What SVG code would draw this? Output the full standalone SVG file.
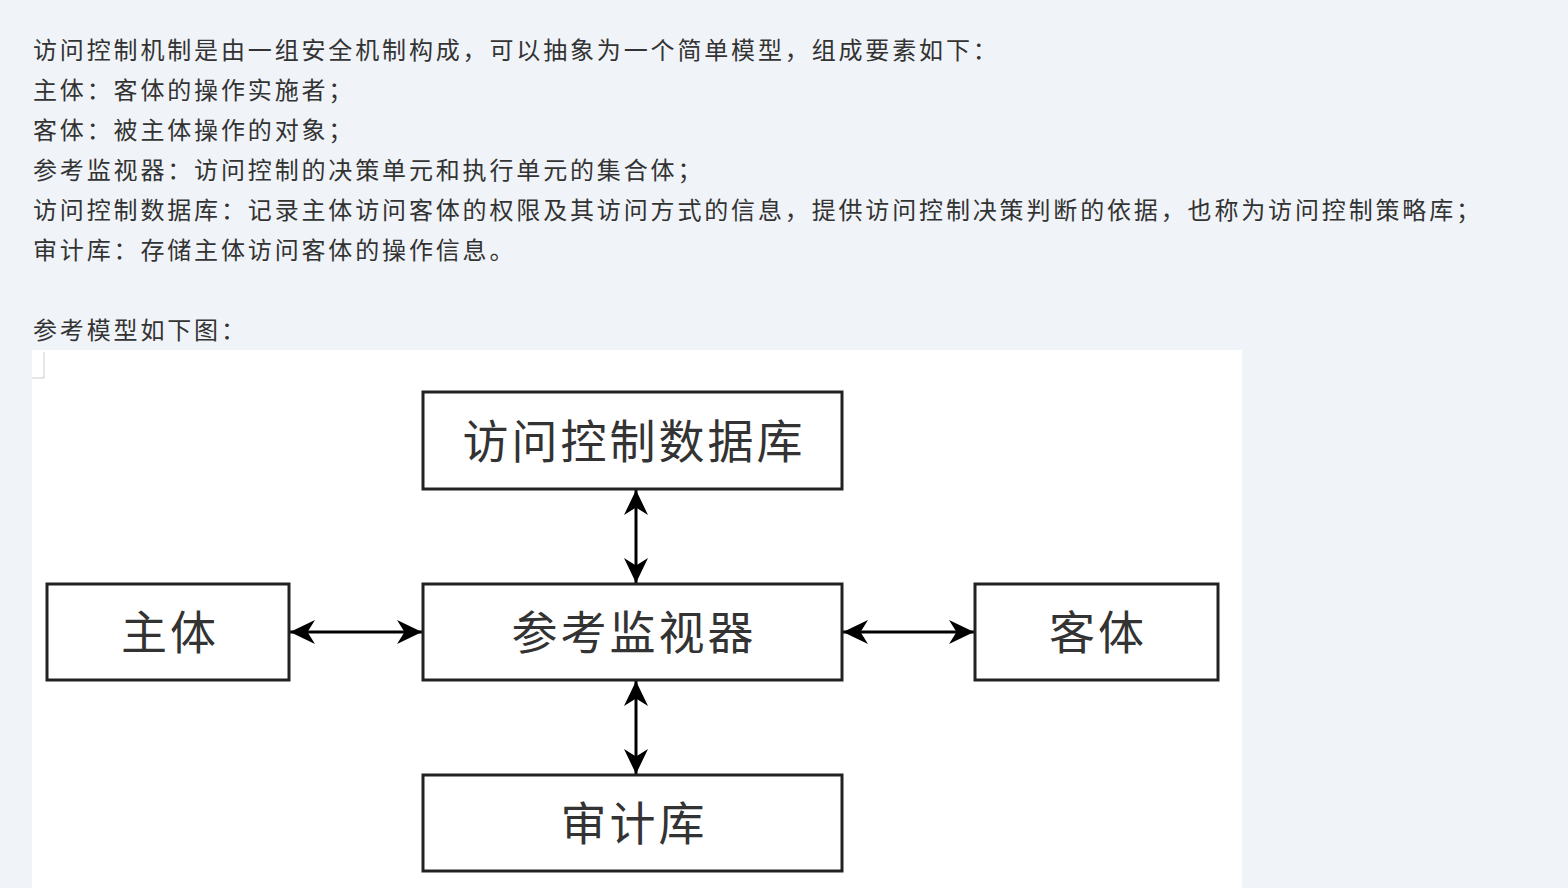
<svg xmlns="http://www.w3.org/2000/svg" width="1568" height="888" viewBox="0 0 1568 888">
<style>
.t{font-family:"Noto Sans CJK SC","Noto Sans",sans-serif;font-size:24px;fill:#333;letter-spacing:2.85px}
.b{fill:#fff;stroke:#222;stroke-width:3}
.n{font-family:"Noto Sans CJK SC",sans-serif;font-size:46px;fill:#333;text-anchor:middle;letter-spacing:3px}
.c{stroke:#000;stroke-width:3;fill:none;marker-start:url(#a);marker-end:url(#a)}
</style>
<defs><marker id="a" viewBox="0 0 10 10" refX="10" refY="5" markerWidth="25" markerHeight="24" orient="auto-start-reverse" markerUnits="userSpaceOnUse" preserveAspectRatio="none"><path d="M0,0L10,5L0,10L3,5Z" fill="#000"/></marker></defs>
<rect width="1568" height="888" fill="#f0f3f8"/>
<text class="t" x="33" y="59">访问控制机制是由一组安全机制构成，可以抽象为一个简单模型，组成要素如下：</text>
<text class="t" x="33" y="99">主体：客体的操作实施者；</text>
<text class="t" x="33" y="139">客体：被主体操作的对象；</text>
<text class="t" x="33" y="179">参考监视器：访问控制的决策单元和执行单元的集合体；</text>
<text class="t" x="33" y="219">访问控制数据库：记录主体访问客体的权限及其访问方式的信息，提供访问控制决策判断的依据，也称为访问控制策略库；</text>
<text class="t" x="33" y="259">审计库：存储主体访问客体的操作信息。</text>
<text class="t" x="33" y="339">参考模型如下图：</text>
<rect x="32" y="350" width="1210" height="538" fill="#fff"/>
<path d="M32,378H44V352" stroke="#ccc" fill="none"/>
<g id="conn">
<line class="c" x1="290" y1="632" x2="422" y2="632"/>
<line class="c" x1="843" y1="632" x2="974" y2="632"/>
<line class="c" x1="636" y1="490" x2="636" y2="583"/>
<line class="c" x1="636" y1="681" x2="636" y2="774"/>
</g>
<g id="db"><rect class="b" x="423" y="392" width="419" height="97"/><text class="n" x="634" y="458">访问控制数据库</text></g>
<g id="subject"><rect class="b" x="47" y="584" width="242" height="96"/><text class="n" x="170" y="649">主体</text></g>
<g id="monitor"><rect class="b" x="423" y="584" width="419" height="96"/><text class="n" x="634" y="649">参考监视器</text></g>
<g id="object"><rect class="b" x="975" y="584" width="243" height="96"/><text class="n" x="1098" y="649">客体</text></g>
<g id="audit"><rect class="b" x="423" y="775" width="419" height="96"/><text class="n" x="634" y="840">审计库</text></g>
</svg>
